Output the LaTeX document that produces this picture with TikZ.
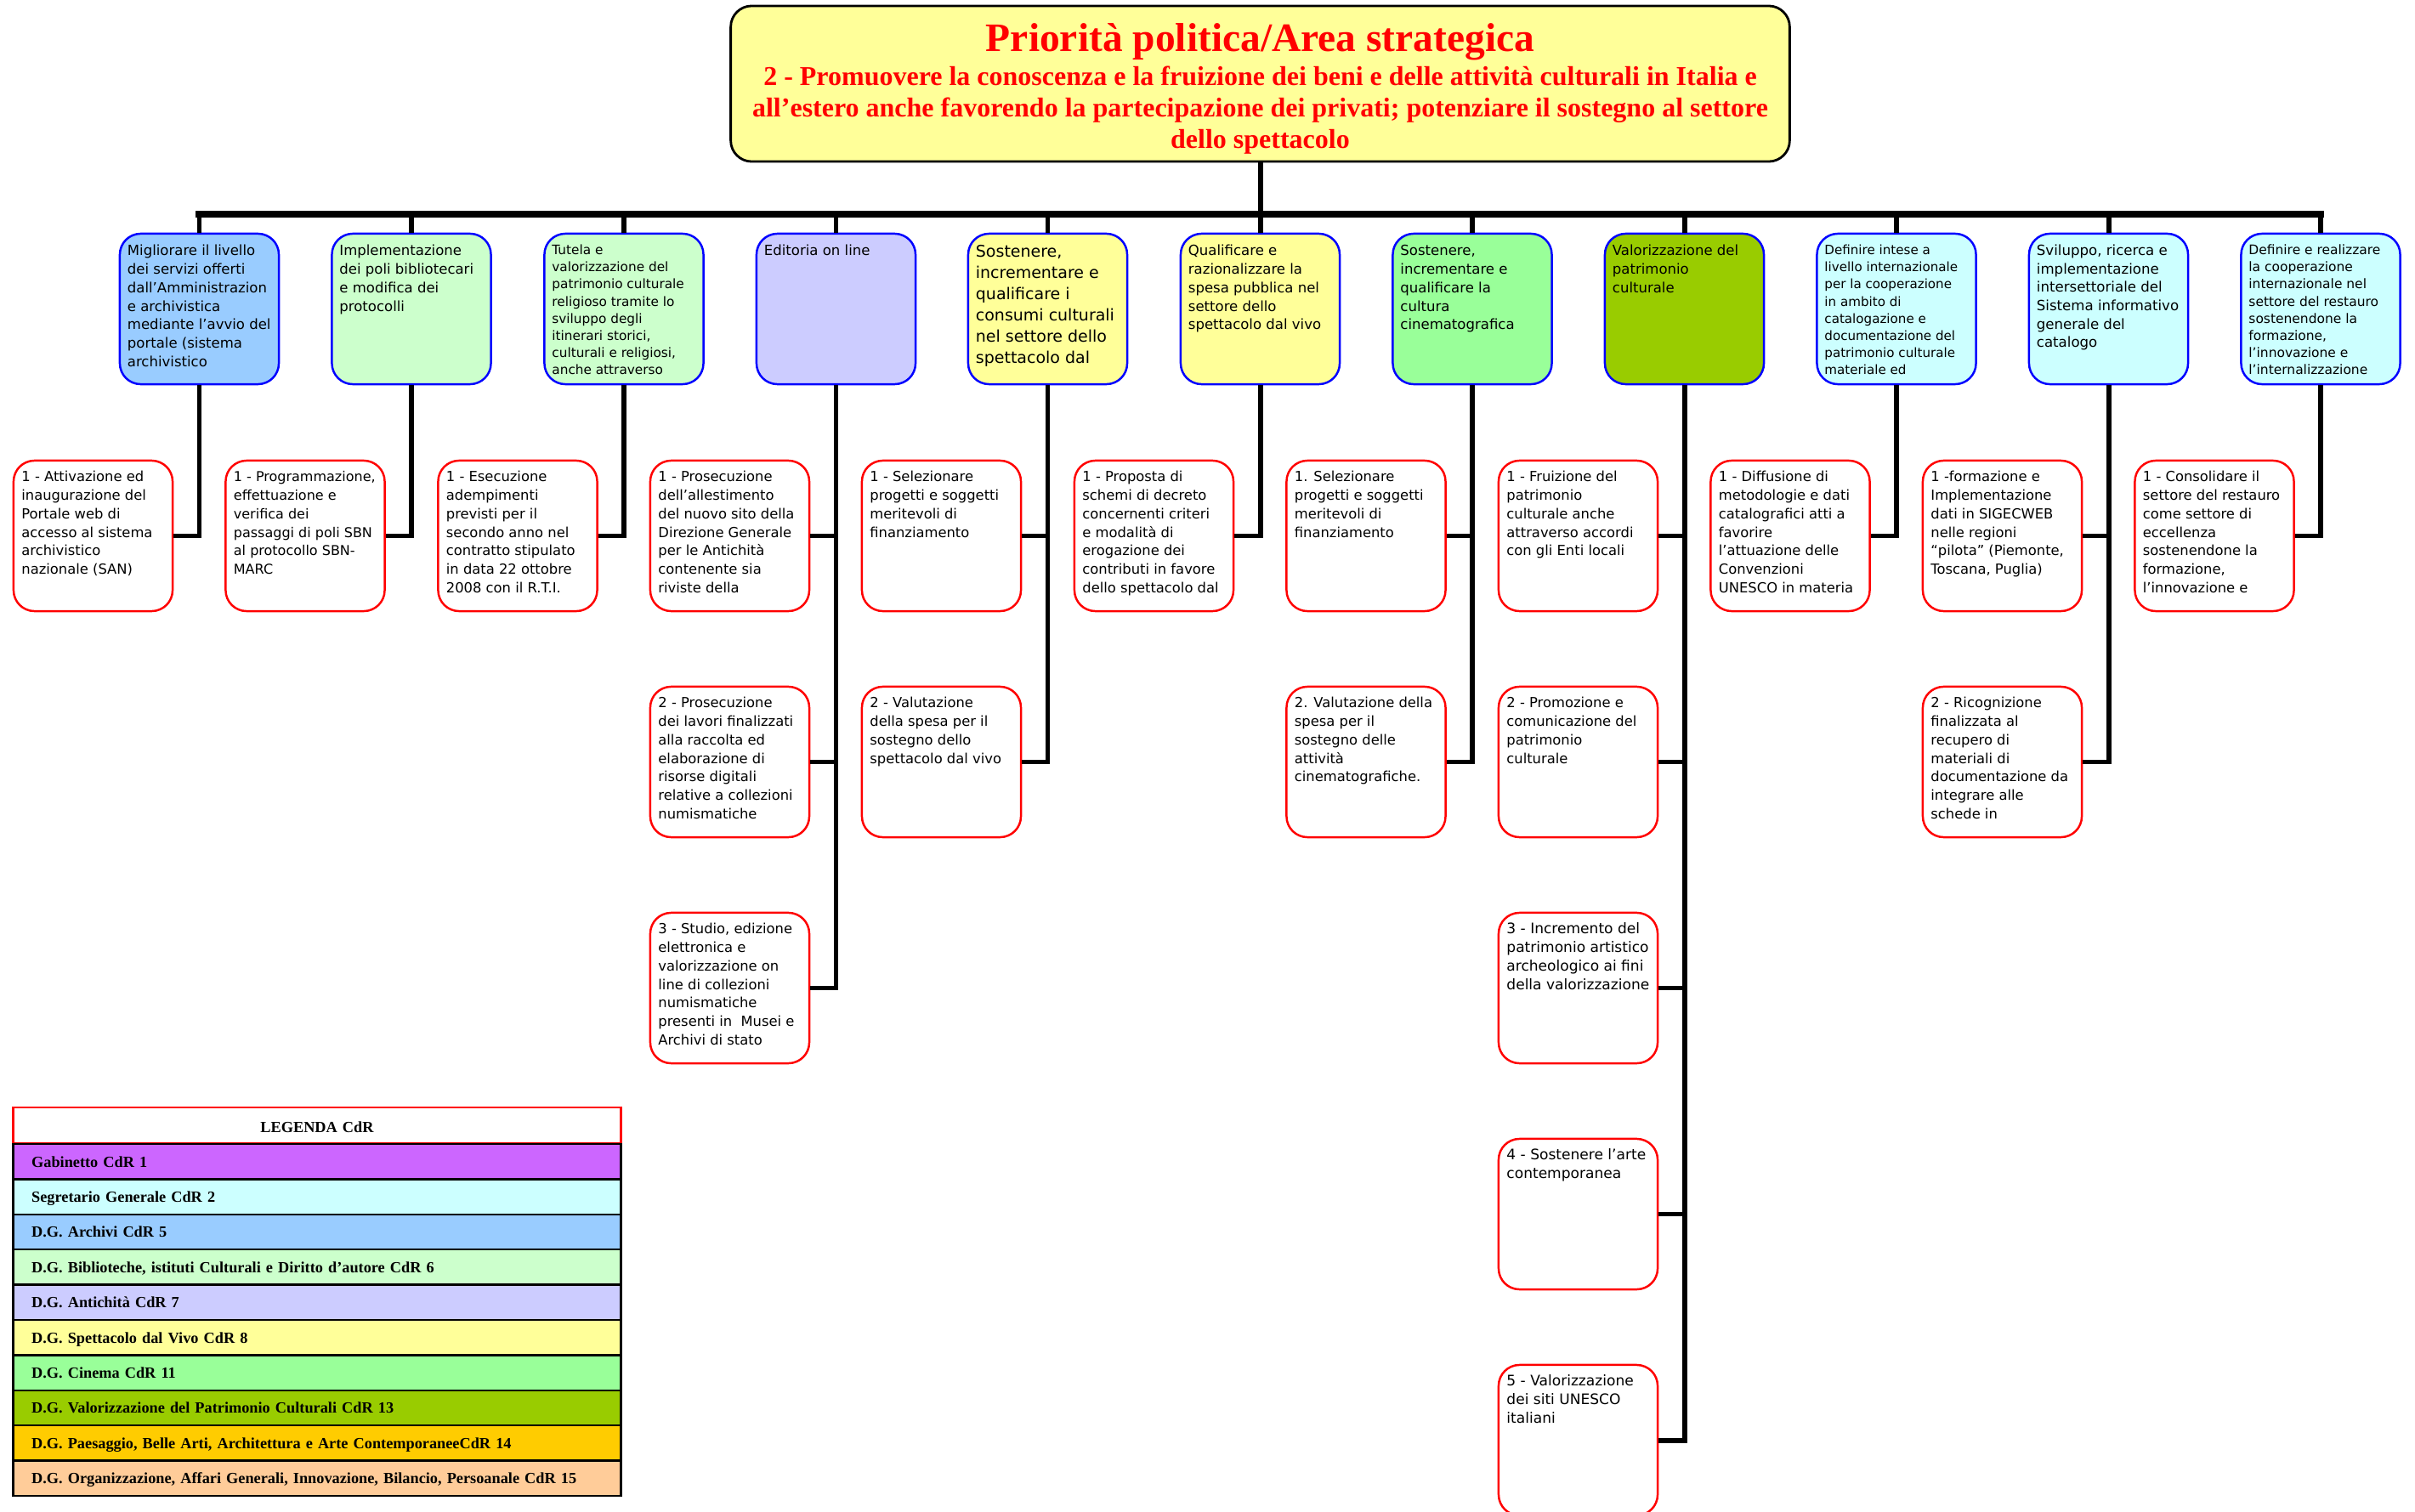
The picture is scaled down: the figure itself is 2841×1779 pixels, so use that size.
\documentclass[tikz,border=0pt]{standalone}
\usepackage{fontspec}
\setmainfont{DejaVu Sans}
\newfontfamily\tnr{Liberation Serif}
\usetikzlibrary{calc}
\definecolor{cyel}{HTML}{FFFF99}
\definecolor{cblue}{HTML}{99CCFF}
\definecolor{cbib}{HTML}{CCFFCC}
\definecolor{cant}{HTML}{CCCCFF}
\definecolor{ccin}{HTML}{99FF99}
\definecolor{cval}{HTML}{99CC00}
\definecolor{ccyan}{HTML}{CCFFFF}
\definecolor{cgab}{HTML}{CC66FF}
\definecolor{cpae}{HTML}{FFCC00}
\definecolor{corg}{HTML}{FFCC99}
\definecolor{bblue}{HTML}{0000FF}
\definecolor{rred}{HTML}{FF0000}
\tikzset{
  topbox/.style={draw=black, line width=0.8pt, rounded corners=7pt, fill=cyel,
    minimum width=12.45cm, minimum height=1.83cm, inner sep=0pt},
  lonebox/.style={draw=bblue, line width=0.7pt, rounded corners=7pt,
    minimum width=1.87cm, minimum height=1.77cm, inner sep=0pt},
  ltwobox/.style={draw=rred, line width=0.7pt, rounded corners=7pt, fill=white,
    minimum width=1.87cm, minimum height=1.77cm, inner sep=0pt},
  txt/.style={inner sep=0pt, text=black},
  conn/.style={line width=1.7pt, black},
  legrow/.style={draw=black, line width=0.7pt, minimum width=7.15cm, minimum height=0.414cm,
    inner xsep=6.1pt, inner ysep=0pt, text width=191pt, align=left,
    text height=4.6pt, text depth=1pt, font=\tnr\bfseries\fontsize{5.2}{6}\selectfont},
  leghead/.style={draw=rred, line width=0.7pt, fill=white, minimum width=7.15cm, minimum height=0.42cm,
    inner xsep=6.1pt, inner ysep=0pt, text width=191pt, align=center,
    text height=5.3pt, text depth=0.6pt, font=\tnr\bfseries\fontsize{5.2}{6}\selectfont},
}
% level-1 box: name, x, fill, first baseline offset (px), text (with font)
\newcommand\LvOne[5]{%
  \node[lonebox, fill=#3] (#1) at (#2,363.5) {};
  \node[txt, anchor=base west] (#1t) at ($(#1.north west)+(9.5,#4)$)
    {\parbox[t]{3cm}{\raggedright #5}};}
% level-2 box: name, x, row, text
\newcommand\LvTwo[4]{%
  \node[ltwobox] (#1) at (#2,{630.5+266*#3}) {};
  \node[txt, anchor=base west] (#1t) at ($(#1.north west)+(10,26)$)
    {\parbox[t]{3cm}{\raggedright\fontsize{4.65}{6.2}\selectfont #4}};}
\begin{document}
\begin{tikzpicture}[x=0.01cm, y=-0.01cm]
\useasboundingbox (0,0) rectangle (2841,1779);

% top box
\node[topbox] (top) at (1482.5,98.5) {};
\node[txt, anchor=base, text=rred, font=\tnr\bfseries\fontsize{13.5}{16}\selectfont] (title)
  at (1482.5,61) {Priorità politica/Area strategica};
\node[txt, anchor=base, text=rred, font=\tnr\bfseries\fontsize{9.1}{10.5}\selectfont] (subtitle)
  at (1482.5,101) {\parbox[t]{13cm}{\centering 2 - Promuovere la conoscenza e la fruizione dei beni e delle attività culturali in Italia e\\
  all’estero anche favorendo la partecipazione dei privati; potenziare il sostegno al settore\\
  dello spettacolo}};

% level 1
\LvOne{p1}{234.5}{cblue}{27}{\fontsize{4.7}{6.2}\selectfont Migliorare il livello\\dei servizi offerti\\dall'Amministrazion\\e archivistica\\mediante l'avvio del\\portale (sistema\\archivistico}
\LvOne{p2}{484}{cbib}{27}{\fontsize{4.7}{6.2}\selectfont Implementazione\\dei poli bibliotecari\\e modifica dei\\protocolli}
\LvOne{p3}{734}{cbib}{26}{\fontsize{4.35}{5.72}\selectfont Tutela e\\valorizzazione del\\patrimonio culturale\\religioso tramite lo\\sviluppo degli\\itinerari storici,\\culturali e religiosi,\\anche attraverso}
\LvOne{p4}{983.5}{cant}{27}{\fontsize{4.7}{6.2}\selectfont Editoria on line}
\LvOne{p5}{1232.5}{cyel}{29}{\fontsize{5.4}{7.1}\selectfont Sostenere,\\incrementare e\\qualificare i\\consumi culturali\\nel settore dello\\spettacolo dal}
\LvOne{p6}{1482.5}{cyel}{27}{\fontsize{4.7}{6.2}\selectfont Qualificare e\\razionalizzare la\\spesa pubblica nel\\settore dello\\spettacolo dal vivo}
\LvOne{p7}{1732}{ccin}{27}{\fontsize{4.7}{6.2}\selectfont Sostenere,\\incrementare e\\qualificare la\\cultura\\cinematografica}
\LvOne{p8}{1981.5}{cval}{27}{\fontsize{4.7}{6.2}\selectfont Valorizzazione del\\patrimonio\\culturale}
\LvOne{p9}{2231}{ccyan}{26}{\fontsize{4.3}{5.72}\selectfont Definire intese a\\livello internazionale\\per la cooperazione\\in ambito di\\catalogazione e\\documentazione del\\patrimonio culturale\\materiale ed}
\LvOne{p10}{2480.5}{ccyan}{27}{\fontsize{4.72}{6.15}\selectfont Sviluppo, ricerca e\\implementazione\\intersettoriale del\\Sistema informativo\\generale del\\catalogo}
\LvOne{p11}{2730}{ccyan}{26}{\fontsize{4.4}{5.72}\selectfont Definire e realizzare\\la cooperazione\\internazionale nel\\settore del restauro\\sostenendone la\\formazione,\\l'innovazione e\\l'internalizzazione}

% level 2
\LvTwo{c1a}{109.5}{0}{1 - Attivazione ed\\inaugurazione del\\Portale web di\\accesso al sistema\\archivistico\\nazionale (SAN)}
\LvTwo{c2a}{359}{0}{\fontsize{4.55}{6.2}\selectfont 1 - Programmazione,\\effettuazione e\\verifica dei\\passaggi di poli SBN\\al protocollo SBN-\\MARC}
\LvTwo{c3a}{609}{0}{1 - Esecuzione\\adempimenti\\previsti per il\\secondo anno nel\\contratto stipulato\\in data 22 ottobre\\2008 con il R.T.I.}
\LvTwo{c4a}{858.5}{0}{1 - Prosecuzione\\dell’allestimento\\del nuovo sito della\\Direzione Generale\\per le Antichità\\contenente sia\\riviste della}
\LvTwo{c4b}{858.5}{1}{2 - Prosecuzione\\dei lavori finalizzati\\alla raccolta ed\\elaborazione di\\risorse digitali\\relative a collezioni\\numismatiche}
\LvTwo{c4c}{858.5}{2}{3 - Studio, edizione\\elettronica e\\valorizzazione on\\line di collezioni\\numismatiche\\presenti in\ \ Musei e\\Archivi di stato}
\LvTwo{c5a}{1107.5}{0}{1 - Selezionare\\progetti e soggetti\\meritevoli di\\finanziamento}
\LvTwo{c5b}{1107.5}{1}{2 - Valutazione\\della spesa per il\\sostegno dello\\spettacolo dal vivo}
\LvTwo{c6a}{1357.5}{0}{1 - Proposta di\\schemi di decreto\\concernenti criteri\\e modalità di\\erogazione dei\\contributi in favore\\dello spettacolo dal}
\LvTwo{c7a}{1607}{0}{1. Selezionare\\progetti e soggetti\\meritevoli di\\finanziamento}
\LvTwo{c7b}{1607}{1}{2. Valutazione della\\spesa per il\\sostegno delle\\attività\\cinematografiche.}
\LvTwo{c8a}{1856.5}{0}{1 - Fruizione del\\patrimonio\\culturale anche\\attraverso accordi\\con gli Enti locali}
\LvTwo{c8b}{1856.5}{1}{2 - Promozione e\\comunicazione del\\patrimonio\\culturale}
\LvTwo{c8c}{1856.5}{2}{\fontsize{4.85}{6.2}\selectfont 3 - Incremento del\\patrimonio artistico\\archeologico ai fini\\della valorizzazione}
\LvTwo{c8d}{1856.5}{3}{\fontsize{4.85}{6.2}\selectfont 4 - Sostenere l’arte\\contemporanea}
\LvTwo{c8e}{1856.5}{4}{\fontsize{4.85}{6.2}\selectfont 5 - Valorizzazione\\dei siti UNESCO\\italiani}
\LvTwo{c9a}{2106}{0}{1 - Diffusione di\\metodologie e dati\\catalografici atti a\\favorire\\l’attuazione delle\\Convenzioni\\UNESCO in materia}
\LvTwo{c10a}{2355.5}{0}{1 -formazione e\\Implementazione\\dati in SIGECWEB\\nelle regioni\\“pilota” (Piemonte,\\Toscana, Puglia)}
\LvTwo{c10b}{2355.5}{1}{2 - Ricognizione\\finalizzata al\\recupero di\\materiali di\\documentazione da\\integrare alle\\schede in}
\LvTwo{c11a}{2605}{0}{1 - Consolidare il\\settore del restauro\\come settore di\\eccellenza\\sostenendone la\\formazione,\\l'innovazione e}

% connectors
\coordinate (bus) at (1482.5,252);
\draw[conn, line width=2.3pt, line cap=rect] (p1.north |- bus) -- (p11.north |- bus);
\draw[conn] (top.south) -- (top.south |- bus);
\foreach \i in {1,...,11} {\draw[conn] (p\i.north) -- (p\i.north |- bus);}
\foreach \c/\p in {c1a/p1, c2a/p2, c3a/p3, c4a/p4, c4b/p4, c4c/p4, c5a/p5, c5b/p5, c6a/p6,
  c7a/p7, c7b/p7, c8a/p8, c8b/p8, c8c/p8, c8d/p8, c8e/p8, c9a/p9, c10a/p10, c10b/p10, c11a/p11}
  {\draw[conn] (\p.south) |- (\c.east);}

% legend
\node[leghead] (lgh) at (373,1324) {LEGENDA CdR};
\node[legrow, fill=cgab] (lg1) at (373,1366.7) {Gabinetto CdR 1};
\node[legrow, fill=ccyan] (lg2) at (373,1408.1) {Segretario Generale CdR 2};
\node[legrow, fill=cblue] (lg3) at (373,1449.5) {D.G. Archivi CdR 5};
\node[legrow, fill=cbib] (lg4) at (373,1490.9) {D.G. Biblioteche, istituti Culturali e Diritto d’autore CdR 6};
\node[legrow, fill=cant] (lg5) at (373,1532.3) {D.G. Antichità CdR 7};
\node[legrow, fill=cyel] (lg6) at (373,1573.7) {D.G. Spettacolo dal Vivo CdR 8};
\node[legrow, fill=ccin] (lg7) at (373,1615.1) {D.G. Cinema CdR 11};
\node[legrow, fill=cval] (lg8) at (373,1656.5) {D.G. Valorizzazione del Patrimonio Culturali CdR 13};
\node[legrow, fill=cpae] (lg9) at (373,1697.9) {D.G. Paesaggio, Belle Arti, Architettura e Arte ContemporaneeCdR 14};
\node[legrow, fill=corg] (lg10) at (373,1739.3) {D.G. Organizzazione, Affari Generali, Innovazione, Bilancio, Persoanale CdR 15};
\end{tikzpicture}
\end{document}
